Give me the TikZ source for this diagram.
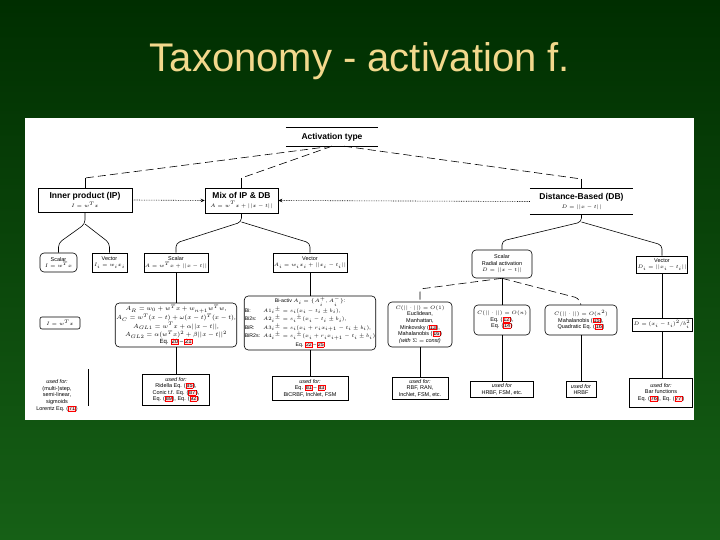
\documentclass[tikz,border=0pt]{standalone}
\usepackage{fontspec}
\setmainfont{Liberation Sans}
\usepackage{xcolor}
\usetikzlibrary{arrows.meta}
\definecolor{bgtop}{RGB}{0,46,0}
\definecolor{bgbot}{RGB}{22,96,22}
\definecolor{titlecol}{RGB}{242,216,140}
\newcommand{\er}[1]{{\setlength{\fboxsep}{0.3pt}\setlength{\fboxrule}{0.45pt}\fcolorbox{red}{red!14}{#1}}}
\begin{document}
\begin{tikzpicture}[x=1pt,y=-1pt,
  conn/.style={draw=black,line width=0.6pt},
  dashline/.style={conn,dash pattern=on 8pt off 4pt},
  dotarrow/.style={conn,dash pattern=on 0.7pt off 1pt,-{Stealth[length=4pt,width=3.5pt]}},
  boxbase/.style={align=center,inner sep=1pt,font=\fontsize{5.5}{6.6}\selectfont},
  sqbox/.style={boxbase,draw=black,line width=0.6pt,fill=white},
  rdbox/.style={sqbox,rounded corners=4pt}]
\useasboundingbox (0,0) rectangle (720,540);
\shade[top color=bgtop,bottom color=bgbot] (0,0) rectangle (720,540);
\fill[white] (25,118) rectangle (694,420);

\node[text=titlecol,font=\fontsize{40}{40}\selectfont,anchor=base] (title) at (360,72) {Taxonomy - activation f.};

% level 0
\node[boxbase,minimum width=92pt,minimum height=18pt,font=\fontsize{8.5}{9.5}\selectfont\bfseries] (act) at (332,137) {Activation type};
\draw[conn] (act.north west) -- (act.north east);
\draw[conn] (act.south west) -- (act.south east);

% level 1
\node[sqbox,minimum width=94pt,minimum height=24pt] (ip) at (85,200) {{\fontsize{8.5}{9.5}\selectfont\bfseries Inner product (IP)}\\[1.5pt] $I=w^Tx$};
\node[sqbox,minimum width=73pt,minimum height=25pt] (mix) at (241.5,200.5) {{\fontsize{8.5}{9.5}\selectfont\bfseries Mix of IP \& DB}\\[1.5pt] $A=w^Tx+||x-t||$};
\node[boxbase,fill=white,minimum width=103pt,minimum height=25pt] (db) at (581.5,201.5) {{\fontsize{8.5}{9.5}\selectfont\bfseries Distance-Based (DB)}\\[1.5pt] $D=||x-t||$};
\draw[conn] (db.north west) -- (db.north east);
\draw[conn] (db.south west) -- (db.south east);

\draw[dashline] (act.south) -- (85,178);
\draw[conn] (85,178) -- (ip.north);
\draw[dashline] (act.south) -- (241.5,178);
\draw[conn] (241.5,178) -- (mix.north);
\draw[dashline] ([xshift=12pt]act.south) -- (581.5,179);
\draw[conn] (581.5,179) -- (db.north);

\draw[dotarrow] (ip.east) -- (mix.west);
\draw[dotarrow] (db.west) -- (mix.east);

% level 2
\node[rdbox,minimum width=37pt,minimum height=19pt] (ips) at (58.5,262.5) {Scalar\\ $I=w^Tx$};
\node[sqbox,minimum width=35pt,minimum height=19pt] (ipv) at (109.5,262.5) {Vector\\ $I_i=w_ix_i$};
\node[sqbox,minimum width=64pt,minimum height=19pt] (mixs) at (176,262.5) {Scalar\\ $A=w^Tx+||x-t||$};
\node[sqbox,minimum width=65pt,minimum height=19pt] (mixv) at (310,262.5) {Vector\\ $A_i=w_ix_i+||x_i-t_i||$};
\node[rdbox,minimum width=60pt,minimum height=28pt] (dbs) at (502,264) {Scalar\\ Radial activation\\ $D=||x-t||$};
\node[sqbox,minimum width=50pt,minimum height=17pt] (dbv) at (662,264.5) {Vector\\ $D_i=||x_i-t_i||$};

\draw[conn,rounded corners=4pt] (ip.south) -- (85,224) -- (58.5,243) -- (ips.north);
\draw[conn,rounded corners=4pt] (85,224) -- (109.5,243) -- (ipv.north);
\draw[conn,rounded corners=4pt] (mix.south) -- (241.5,222) -- (176,243) -- (mixs.north);
\draw[conn,rounded corners=4pt] (241.5,222) -- (310,243) -- (mixv.north);
\draw[conn,rounded corners=4pt] (db.south) -- (581.5,222) -- (502,241) -- (dbs.north);
\draw[conn,rounded corners=4pt] (581.5,222) -- (662,245) -- (dbv.north);

% level 3
\node[rdbox,rounded corners=2pt,minimum width=40pt,minimum height=12pt] (ipi) at (60,323) {$I=w^Tx$};
\node[rdbox,minimum width=112pt,minimum height=44pt,font=\fontsize{6}{7.2}\selectfont] (mixs2) at (176,325) {$A_R=w_0+w^Tx+w_{n+1}w^Tw$,\\ $A_C=w^T(x-t)+\omega(x-t)^T(x-t)$,\\ $A_{GL1}=w^Tx+\alpha||x-t||$,\\ $A_{GL2}=\alpha(w^Tx)^2+\beta||x-t||^2$\\ Eq. \er{20}\,--\,\er{21}};
\node[rdbox,minimum width=122pt,minimum height=54pt,inner sep=0.5pt,font=\fontsize{5.2}{8.6}\selectfont] (bi) at (310,323) {\begin{tabular}{@{}l@{\hspace{3pt}}l@{}}
\multicolumn{2}{c}{Bi-activ $A_i=\{A_i^+,A_i^-\}$:}\\
Bi: & $A1_i{}^{\pm}=s_i(x_i-t_i\pm b_i)$,\\
Bi2s: & $A2_i{}^{\pm}=s_i{}^{\pm}(x_i-t_i\pm b_i)$,\\
BiR: & $A3_i{}^{\pm}=s_i(x_i+r_ix_{i+1}-t_i\pm b_i)$,\\
BiR2s: & $A4_i{}^{\pm}=s_i{}^{\pm}(x_i+r_ix_{i+1}-t_i\pm b_i)$\\
\multicolumn{2}{c}{Eq. \er{22}\,--\,\er{25}}
\end{tabular}};
\node[rdbox,minimum width=64pt,minimum height=45pt] (o1) at (420,324.5) {$C(||\cdot||)=O(1)$\\ Euclidean,\\ Manhattan,\\ Minkovsky (\er{13}),\\ Mahalanobis (\er{16})\\ \textit{(with $\Sigma=$ const)}};
\node[rdbox,minimum width=56pt,minimum height=30pt] (on) at (502,320) {$C(||\cdot||)=O(n)$\\ Eq. (\er{12}),\\ Eq. (\er{14})};
\node[rdbox,minimum width=72pt,minimum height=30pt] (on2) at (581,320) {$C(||\cdot||)=O(n^2)$\\ Mahalanobis (\er{15}),\\ Quadratic Eq. (\er{16})};
\node[sqbox,minimum width=60pt,minimum height=13pt] (dbv2) at (662,324.5) {$D=(x_i-t_i)^2/b_i^2$};

\draw[conn] (mixs.south) -- (mixs2.north);
\draw[conn] (mixv.south) -- (bi.north);
\draw[dashline,rounded corners=3pt] (dbs.south) -- (420,289) -- (o1.north);
\draw[conn] (dbs.south) -- (on.north);
\draw[dashline,rounded corners=3pt] (dbs.south) -- (578,298) -- (on2.north);
\draw[conn] (dbv.south) -- (dbv2.north);

% level 4
\node[boxbase,font=\fontsize{5.5}{6.9}\selectfont] (u1) at (57,395.5) {\textit{used for:}\\ (multi-)step,\\ semi-linear,\\ sigmoids\\ Lorentz Eq. (\er{71})};
\draw[conn] (88,369) -- (88,406);
\node[sqbox,minimum width=67pt,minimum height=31pt] (u2) at (176,389.5) {\textit{used for:}\\ Ridella Eq. (\er{85}),\\ Conic t.f. Eq. (\er{87}),\\ Eq. (\er{89}), Eq. (\er{92})};
\node[sqbox,minimum width=76pt,minimum height=24pt] (u3) at (310,388) {\textit{used for:}\\ Eq. \er{81}\,--\,\er{83}\\ BiCRBF, IncNet, FSM};
\node[sqbox,minimum width=56pt,minimum height=22pt] (u4) at (420,388) {\textit{used for:}\\ RBF, RAN,\\ IncNet, FSM, etc.};
\node[sqbox,minimum width=63pt,minimum height=16pt] (u5) at (502,389.5) {\textit{used for}\\ HRBF, FSM, etc.};
\node[sqbox,minimum width=30pt,minimum height=16pt] (u6) at (581,389.5) {\textit{used for}\\ HRBF};
\node[sqbox,minimum width=63pt,minimum height=29pt] (u7) at (661,392.5) {\textit{used for:}\\ Bar functions\\ Eq. (\er{76}), Eq. (\er{77})};

\draw[conn] (mixs2.south) -- (u2.north);
\draw[conn] (bi.south) -- (u3.north);
\draw[conn] (o1.south) -- (u4.north);
\draw[conn] (on.south) -- (u5.north);
\draw[conn] (on2.south) -- (u6.north);
\draw[conn] (dbv2.south) -- (dbv2.south |- u7.north);
\end{tikzpicture}
\end{document}
